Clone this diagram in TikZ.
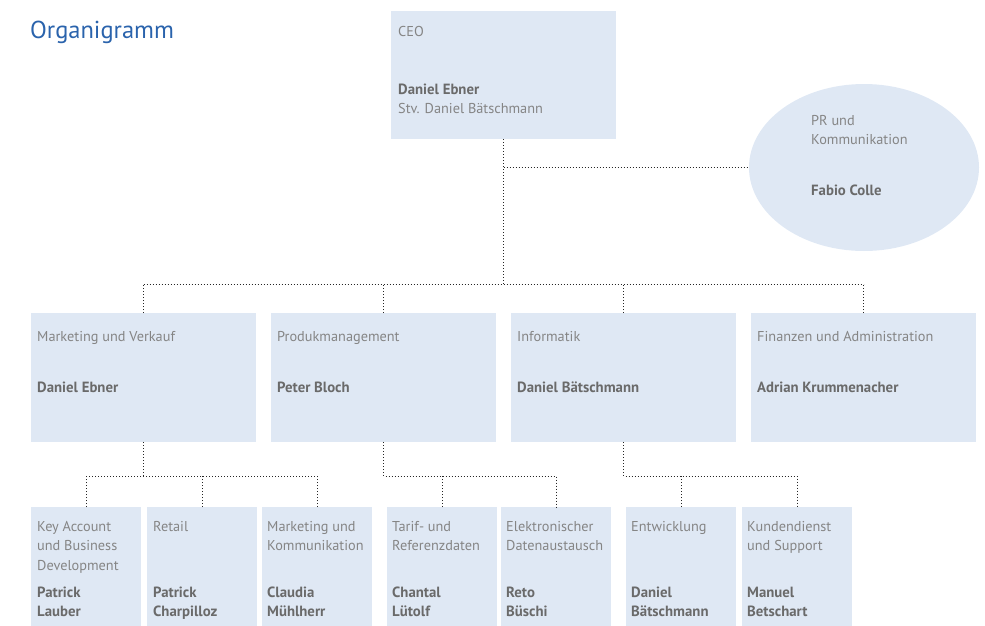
\documentclass[tikz,border=0pt]{standalone}
\usepackage{fontspec}
\newfontfamily\orgfont{PT Sans}
\usetikzlibrary{shapes.geometric}
\definecolor{boxfill}{HTML}{DFE8F4}
\definecolor{titleblue}{HTML}{2A63AC}
\definecolor{lightgray}{HTML}{858585}
\definecolor{darkgray}{HTML}{6A6A6A}
\tikzset{
  box/.style={rectangle, fill=boxfill, draw=none, inner sep=0pt, outer sep=0pt},
  bigbox/.style={box, minimum width=225pt, minimum height=129pt},
  smallbox/.style={box, minimum width=110pt, minimum height=119pt},
  lt/.style={anchor=base west, inner sep=0pt, align=left, text=lightgray,
    font=\orgfont\fontsize{14.3}{19.7}\selectfont},
  bd/.style={anchor=base west, inner sep=0pt, align=left, text=darkgray,
    font=\orgfont\bfseries\fontsize{14.8}{19.7}\selectfont},
  conn/.style={line width=0.9pt, dash pattern=on 0.9pt off 2.1pt, draw=black!85}
}
\begin{document}
\begin{tikzpicture}[x=1pt,y=-1pt]
\useasboundingbox (0,0) rectangle (985,626);
% title (base anchor of a multi-line node is the baseline of its last line)
\node[anchor=base west, inner sep=0pt, text=titleblue, font=\orgfont\fontsize{24.5}{30}\selectfont] (title) at (30,39) {Organigramm};
% CEO
\node[box, minimum width=225pt, minimum height=128pt] (ceo) at (503.5,75) {};
\node[lt] (ceot) at (398,37) {CEO};
\node[bd] (ceon) at (398,94) {Daniel Ebner};
\node[lt] (ceos) at (398,113) {Stv. Daniel Bätschmann};
% PR
\node[ellipse, fill=boxfill, inner sep=0pt, outer sep=0pt, minimum width=230pt, minimum height=167pt] (pr) at (864,167.5) {};
\node[lt] (prt) at (811,144.7) {PR und\\Kommunikation};
\node[bd] (prn) at (811,195) {Fabio Colle};
% middle level
\node[bigbox] (mv) at (143.5,377.5) {};
\node[bigbox] (pm) at (383.5,377.5) {};
\node[bigbox] (inf) at (623.5,377.5) {};
\node[bigbox] (fa) at (863.5,377.5) {};
\node[lt] (mvt) at (37,341) {Marketing und Verkauf};
\node[bd] (mvn) at (37,392) {Daniel Ebner};
\node[lt] (pmt) at (277,341) {Produkmanagement};
\node[bd] (pmn) at (277,392) {Peter Bloch};
\node[lt] (inft) at (517,341) {Informatik};
\node[bd] (infn) at (517,392) {Daniel Bätschmann};
\node[lt] (fat) at (757,341) {Finanzen und Administration};
\node[bd] (fan) at (757,392) {Adrian Krummenacher};
% bottom level
\node[smallbox] (k1) at (86,566.5) {};
\node[smallbox] (k2) at (202,566.5) {};
\node[smallbox] (k3) at (317,566.5) {};
\node[smallbox] (p1) at (442,566.5) {};
\node[smallbox] (p2) at (556,566.5) {};
\node[smallbox] (i1) at (681,566.5) {};
\node[smallbox] (i2) at (797,566.5) {};
\node[lt] (k1t) at (37,570.4) {Key Account\\und Business\\Development};
\node[bd] (k1n) at (37,616.7) {Patrick\\Lauber};
\node[lt] (k2t) at (153,531) {Retail};
\node[bd] (k2n) at (153,616.7) {Patrick\\Charpilloz};
\node[lt] (k3t) at (267,550.7) {Marketing und\\Kommunikation};
\node[bd] (k3n) at (267,616.7) {Claudia\\Mühlherr};
\node[lt] (p1t) at (392,550.7) {Tarif- und\\Referenzdaten};
\node[bd] (p1n) at (392,616.7) {Chantal\\Lütolf};
\node[lt] (p2t) at (506,550.7) {Elektronischer\\Datenaustausch};
\node[bd] (p2n) at (506,616.7) {Reto\\Büschi};
\node[lt] (i1t) at (631,531) {Entwicklung};
\node[bd] (i1n) at (631,616.7) {Daniel\\Bätschmann};
\node[lt] (i2t) at (747,550.7) {Kundendienst\\und Support};
\node[bd] (i2n) at (747,616.7) {Manuel\\Betschart};
% connectors
\coordinate (j1) at (503.5,284);
\coordinate (jb) at (0,476);
\draw[conn] (ceo.south) -- (j1);
\draw[conn] (ceo.south |- pr.west) -- (pr.west);
\draw[conn] (mv.north |- j1) -- (fa.north |- j1);
\draw[conn] (mv.north) -- (mv.north |- j1);
\draw[conn] (pm.north) -- (pm.north |- j1);
\draw[conn] (inf.north) -- (inf.north |- j1);
\draw[conn] (fa.north) -- (fa.north |- j1);
% marketing children
\draw[conn] (mv.south) -- (mv.south |- jb);
\draw[conn] (k1.north |- jb) -- (k3.north |- jb);
\draw[conn] (k1.north) -- (k1.north |- jb);
\draw[conn] (k2.north) -- (k2.north |- jb);
\draw[conn] (k3.north) -- (k3.north |- jb);
% produkmanagement children
\draw[conn] (pm.south) -- (pm.south |- jb) -- (p2.north |- jb) -- (p2.north);
\draw[conn] (p1.north) -- (p1.north |- jb);
% informatik children
\draw[conn] (inf.south) -- (inf.south |- jb) -- (i2.north |- jb) -- (i2.north);
\draw[conn] (i1.north) -- (i1.north |- jb);
\end{tikzpicture}
\end{document}
